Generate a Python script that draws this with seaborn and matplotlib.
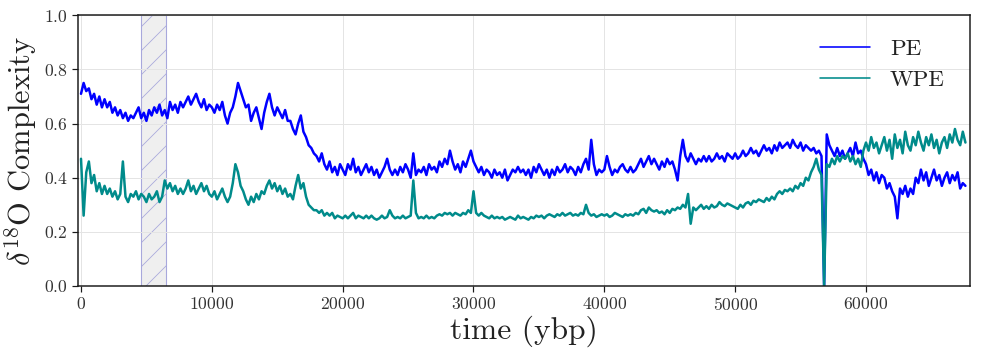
import numpy as np
import pandas as pd
import matplotlib
matplotlib.use("Agg")
import matplotlib.pyplot as plt
import seaborn as sns

# ---------------- data ----------------
time_step = 200  # years between samples
pe_values = [
    0.71, 0.75, 0.72, 0.73, 0.69, 0.71, 0.67, 0.70, 0.66, 0.69,
    0.66, 0.68, 0.64, 0.66, 0.63, 0.65, 0.62, 0.64, 0.61, 0.63,
    0.62, 0.64, 0.66, 0.62, 0.64, 0.61, 0.65, 0.63, 0.66, 0.64,
    0.67, 0.63, 0.65, 0.62, 0.68, 0.65, 0.67, 0.64, 0.68, 0.66,
    0.68, 0.70, 0.67, 0.69, 0.71, 0.68, 0.66, 0.69, 0.65, 0.67,
    0.66, 0.64, 0.67, 0.65, 0.68, 0.63, 0.60, 0.64, 0.66, 0.70,
    0.75, 0.72, 0.69, 0.66, 0.67, 0.61, 0.64, 0.66, 0.62, 0.58,
    0.64, 0.68, 0.71, 0.66, 0.63, 0.66, 0.64, 0.62, 0.65, 0.61,
    0.61, 0.58, 0.56, 0.60, 0.63, 0.57, 0.55, 0.52, 0.51, 0.49,
    0.48, 0.46, 0.49, 0.45, 0.43, 0.46, 0.42, 0.44, 0.41, 0.45,
    0.43, 0.41, 0.45, 0.43, 0.47, 0.42, 0.44, 0.41, 0.43, 0.45,
    0.42, 0.44, 0.41, 0.43, 0.40, 0.42, 0.44, 0.47, 0.43, 0.41,
    0.43, 0.41, 0.44, 0.42, 0.45, 0.43, 0.40, 0.49, 0.41, 0.43,
    0.42, 0.44, 0.41, 0.45, 0.43, 0.44, 0.42, 0.46, 0.44, 0.47,
    0.45, 0.50, 0.46, 0.43, 0.45, 0.42, 0.46, 0.44, 0.47, 0.50,
    0.46, 0.44, 0.42, 0.44, 0.41, 0.43, 0.42, 0.40, 0.43, 0.41,
    0.42, 0.40, 0.43, 0.39, 0.41, 0.43, 0.42, 0.44, 0.42, 0.43,
    0.41, 0.43, 0.40, 0.44, 0.42, 0.45, 0.43, 0.41, 0.43, 0.40,
    0.43, 0.41, 0.44, 0.42, 0.43, 0.45, 0.42, 0.44, 0.43, 0.41,
    0.44, 0.42, 0.45, 0.47, 0.43, 0.54, 0.45, 0.41, 0.43, 0.42,
    0.43, 0.48, 0.44, 0.41, 0.43, 0.42, 0.44, 0.45, 0.43, 0.42,
    0.44, 0.42, 0.43, 0.45, 0.47, 0.44, 0.46, 0.48, 0.45, 0.47,
    0.45, 0.43, 0.46, 0.44, 0.47, 0.45, 0.46, 0.43, 0.39, 0.48,
    0.54, 0.48, 0.46, 0.49, 0.47, 0.45, 0.47, 0.46, 0.48, 0.46,
    0.48, 0.46, 0.47, 0.49, 0.47, 0.48, 0.46, 0.49, 0.48, 0.47,
    0.49, 0.47, 0.48, 0.50, 0.48, 0.49, 0.51, 0.49, 0.50, 0.48,
    0.50, 0.52, 0.50, 0.51, 0.49, 0.52, 0.50, 0.53, 0.51, 0.52,
    0.53, 0.51, 0.54, 0.52, 0.51, 0.53, 0.50, 0.52, 0.51, 0.50,
    0.51, 0.49, 0.50, 0.48, 0.00, 0.56, 0.52, 0.50, 0.48, 0.51,
    0.48, 0.50, 0.47, 0.49, 0.51, 0.48, 0.53, 0.49, 0.50, 0.47,
    0.45, 0.41, 0.43, 0.39, 0.42, 0.38, 0.41, 0.40, 0.36, 0.38,
    0.35, 0.33, 0.25, 0.36, 0.34, 0.37, 0.33, 0.36, 0.34, 0.40,
    0.38, 0.43, 0.39, 0.42, 0.37, 0.40, 0.43, 0.39, 0.41, 0.37,
    0.40, 0.42, 0.38, 0.41, 0.39, 0.42, 0.36, 0.38, 0.37,
]
wpe_values = [
    0.47, 0.26, 0.42, 0.46, 0.38, 0.41, 0.35, 0.38, 0.34, 0.37,
    0.34, 0.36, 0.33, 0.35, 0.32, 0.34, 0.46, 0.33, 0.31, 0.34,
    0.33, 0.35, 0.32, 0.34, 0.33, 0.31, 0.34, 0.32, 0.33, 0.35,
    0.31, 0.33, 0.39, 0.36, 0.38, 0.35, 0.37, 0.34, 0.36, 0.34,
    0.36, 0.39, 0.35, 0.37, 0.34, 0.36, 0.38, 0.35, 0.37, 0.34,
    0.33, 0.35, 0.32, 0.34, 0.36, 0.33, 0.31, 0.33, 0.38, 0.45,
    0.42, 0.37, 0.35, 0.32, 0.30, 0.33, 0.31, 0.34, 0.32, 0.35,
    0.34, 0.37, 0.39, 0.36, 0.38, 0.35, 0.37, 0.34, 0.36, 0.33,
    0.34, 0.32, 0.37, 0.41, 0.36, 0.38, 0.33, 0.30, 0.29, 0.28,
    0.28, 0.27, 0.28, 0.26, 0.27, 0.26, 0.27, 0.25, 0.26, 0.255,
    0.25, 0.26, 0.25, 0.26, 0.27, 0.25, 0.26, 0.255, 0.25, 0.26,
    0.25, 0.26, 0.25, 0.245, 0.25, 0.26, 0.25, 0.255, 0.28, 0.26,
    0.25, 0.255, 0.25, 0.26, 0.25, 0.255, 0.26, 0.39, 0.27, 0.25,
    0.255, 0.25, 0.26, 0.25, 0.255, 0.25, 0.26, 0.265, 0.26, 0.27,
    0.265, 0.27, 0.26, 0.27, 0.265, 0.26, 0.27, 0.265, 0.28, 0.27,
    0.35, 0.27, 0.26, 0.27, 0.26, 0.255, 0.25, 0.26, 0.25, 0.255,
    0.25, 0.255, 0.245, 0.25, 0.255, 0.25, 0.245, 0.26, 0.25, 0.255,
    0.25, 0.245, 0.255, 0.25, 0.26, 0.255, 0.26, 0.25, 0.26, 0.265,
    0.26, 0.255, 0.265, 0.26, 0.27, 0.26, 0.265, 0.27, 0.26, 0.265,
    0.26, 0.27, 0.265, 0.30, 0.27, 0.26, 0.265, 0.255, 0.26, 0.265,
    0.26, 0.265, 0.255, 0.26, 0.27, 0.265, 0.26, 0.255, 0.265, 0.26,
    0.265, 0.26, 0.27, 0.265, 0.28, 0.285, 0.27, 0.29, 0.28, 0.275,
    0.28, 0.27, 0.275, 0.265, 0.28, 0.27, 0.285, 0.28, 0.29, 0.285,
    0.30, 0.29, 0.34, 0.23, 0.29, 0.28, 0.29, 0.30, 0.285, 0.295,
    0.285, 0.30, 0.29, 0.295, 0.31, 0.30, 0.295, 0.305, 0.30, 0.295,
    0.29, 0.285, 0.30, 0.29, 0.305, 0.31, 0.30, 0.315, 0.31, 0.32,
    0.315, 0.31, 0.325, 0.315, 0.33, 0.32, 0.34, 0.35, 0.34, 0.355,
    0.35, 0.36, 0.35, 0.37, 0.36, 0.38, 0.37, 0.40, 0.39, 0.42,
    0.44, 0.47, 0.43, 0.41, 0.00, 0.45, 0.44, 0.47, 0.45, 0.48,
    0.46, 0.48, 0.47, 0.49, 0.46, 0.48, 0.45, 0.47, 0.44, 0.50,
    0.53, 0.50, 0.55, 0.51, 0.53, 0.49, 0.52, 0.55, 0.50, 0.54,
    0.47, 0.56, 0.51, 0.54, 0.49, 0.57, 0.52, 0.50, 0.55, 0.52,
    0.57, 0.53, 0.50, 0.55, 0.52, 0.56, 0.51, 0.54, 0.49, 0.53,
    0.55, 0.51, 0.56, 0.53, 0.58, 0.54, 0.52, 0.57, 0.53,
]
series_names = ["PE", "WPE"]
series_colors = ["#0000ff", "#008b8b"]
shade_start, shade_end = 4600, 6500
x_ticks = [0, 10000, 20000, 30000, 40000, 50000, 60000]
y_ticks = [0.0, 0.2, 0.4, 0.6, 0.8, 1.0]

time_ybp = np.arange(len(pe_values)) * time_step
df = pd.DataFrame({
    "time": np.concatenate([time_ybp, time_ybp]),
    "value": pe_values + wpe_values,
    "series": [series_names[0]] * len(pe_values) + [series_names[1]] * len(wpe_values),
})

# ---------------- style ----------------
DPI = 72  # 1 pt == 1 px

sns.set_theme(style="whitegrid")
plt.rcParams.update({
    "font.family": "serif",
    "font.serif": ["cmr10", "DejaVu Serif"],
    "mathtext.fontset": "cm",
    "axes.formatter.use_mathtext": True,
    "hatch.linewidth": 0.8,
    "axes.unicode_minus": False,
})

fig = plt.figure(figsize=(983 / DPI, 361 / DPI), dpi=DPI)
ax = fig.add_axes([78 / 983, 1 - 286 / 361, (970 - 78) / 983, (286 - 15.3) / 361])

ax.axvspan(shade_start, shade_end, facecolor="#efefef", edgecolor="#a8a8dc",
           hatch="/", linewidth=1.1, zorder=0.5)

sns.lineplot(data=df, x="time", y="value", hue="series", palette=series_colors,
             estimator=None, linewidth=2.5, ax=ax, zorder=2)

ax.set_xlim(-230, 67950)
ax.set_ylim(0, 1)
ax.set_xticks(x_ticks)
ax.set_yticks(y_ticks)
ax.grid(True, color="#e4e4e4", linewidth=1.0)
ax.set_axisbelow(True)

for s in ax.spines.values():
    s.set_visible(True)
    s.set_color("#1a1a1a")
    s.set_linewidth(1.5)

ax.tick_params(axis="both", which="major", bottom=True, left=True, direction="out",
               length=6, width=1.2, color="#1a1a1a",
               labelsize=17.6, labelcolor="#333333", pad=4)

ax.set_xlabel("time (ybp)", fontsize=31.5, color="#222222", labelpad=3)
ax.set_ylabel(r"$\delta^{18}$O Complexity", fontsize=30.5, color="#222222",
              labelpad=5)

handles, labels = ax.get_legend_handles_labels()
leg = ax.legend(handles, labels, loc="upper right", frameon=False,
                fontsize=23, handlelength=2.2, handletextpad=0.85,
                bbox_to_anchor=(0.995, 0.99))
for t in leg.get_texts():
    t.set_color("#222222")
for h in leg.get_lines():
    h.set_linewidth(1.6)

fig.savefig("out.png", dpi=DPI)
